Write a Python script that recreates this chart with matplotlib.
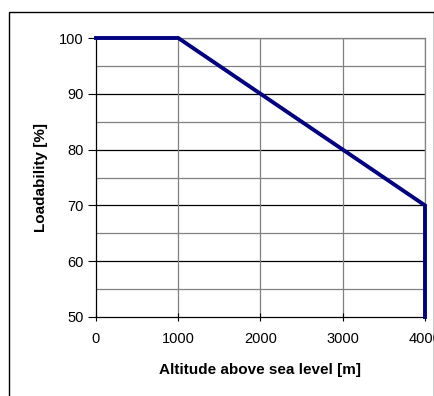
import matplotlib
matplotlib.use("Agg")
import matplotlib.pyplot as plt
from matplotlib.patches import Rectangle

altitude = [0, 1000, 4000, 4000]
loadability = [100, 100, 70, 50]
x_ticks = [0, 1000, 2000, 3000, 4000]
y_ticks = [50, 60, 70, 80, 90, 100]
y_minor = [55, 65, 75, 85, 95]

plt.rcParams['font.family'] = ['Liberation Sans', 'DejaVu Sans']
fig = plt.figure(figsize=(4.35, 3.96), dpi=100)
ax = fig.add_axes([96/435, 1-317/396, (425-96)/435, (317-38)/396])

ax.set_xlim(0, 4000)
ax.set_ylim(50, 100)
ax.set_xticks(x_ticks)
ax.set_yticks(y_ticks)
ax.set_yticks(y_minor, minor=True)

for y in y_ticks[1:]:
    ax.axhline(y, color='black', lw=0.9, zorder=1)
for y in y_minor:
    ax.axhline(y, color='#808080', lw=0.9, zorder=1)
for x in x_ticks[1:]:
    ax.axvline(x, color='#808080', lw=0.9, zorder=1)

ax.plot(altitude, loadability, color='#000080', lw=2.8, zorder=3, clip_on=False,
        solid_joinstyle='miter')

for s in ['top', 'right']:
    ax.spines[s].set_color('#808080')
    ax.spines[s].set_linewidth(0.9)
for s in ['left', 'bottom']:
    ax.spines[s].set_color('black')
    ax.spines[s].set_linewidth(0.9)

ax.tick_params(axis='y', which='major', direction='out', length=5.5, width=0.8, labelsize=10.5, pad=3.5)
ax.tick_params(axis='y', which='minor', length=0)
ax.tick_params(axis='x', which='major', direction='inout', length=6, width=0.8, labelsize=10.5, pad=8)

ax.set_xlabel('Altitude above sea level [m]', fontsize=11, fontweight='bold', labelpad=12)
ax.set_ylabel('Loadability [%]', fontsize=11, fontweight='bold', labelpad=7.5)

fig.patches.append(Rectangle((9/435, -0.01), (434-9)/435, 1-12/396+0.01,
                             transform=fig.transFigure, fill=False,
                             edgecolor='black', lw=1.0))

fig.savefig('out.png', dpi=100)
